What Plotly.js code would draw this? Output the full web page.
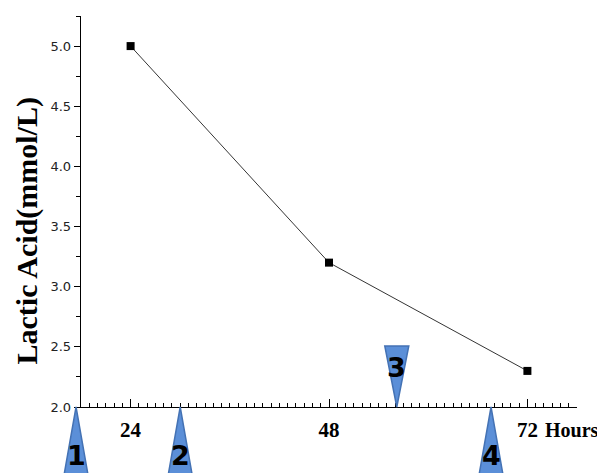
<!DOCTYPE html>
<html>
<head>
<meta charset="utf-8">
<script src="https://cdn.plot.ly/plotly-3.0.1.min.js"></script>
<style>html,body{margin:0;padding:0;background:#fff;}#chart{width:597px;height:473px;}</style>
</head>
<body>
<div id="chart"></div>
<script>
// Data
const hours = [24, 48, 72];
const lactate = [5.0, 3.2, 2.3];
const xTickVals = [24, 48, 72];
const xTickText = ['24', '48', '72'];
const xUnit = 'Hours';
const yTitle = 'Lactic Acid(mmol/L)';
// Event markers (timepoints in hours, label, pointing down?)
const eventHours = [17.4, 30, 56.2, 67.6];
const eventLabels = ['1', '2', '3', '4'];
const eventDown = [false, false, true, false];

const W = 597, H = 473;
const margin = {l: 81, r: 20, t: 16, b: 66};
const plotW = W - margin.l - margin.r;
const plotH = H - margin.t - margin.b;
const xRange = [18, 78];
const yRange = [2, 5.25];

function xPaper(h) { return (h - xRange[0]) / (xRange[1] - xRange[0]); }

const numFont = {family: 'DejaVu Sans, sans-serif', size: 27, color: '#000', weight: 'bold'};
const shapes = [];
const annotations = [];
eventHours.forEach((h, i) => {
  const xc = xPaper(h);
  const hw = 12 / plotW;
  if (eventDown[i]) {
    const ht = 61 / plotH;
    shapes.push({type: 'path', xref: 'paper', yref: 'paper',
      path: `M ${xc},0 L ${xc - hw},${ht} L ${xc + hw},${ht} Z`,
      fillcolor: '#5b8fd8', line: {color: '#4472b4', width: 1.5}, layer: 'above'});
    annotations.push({xref: 'paper', yref: 'paper', x: xc, y: 0, yanchor: 'middle', xanchor: 'center',
      yshift: 40, text: eventLabels[i], showarrow: false, font: numFont, borderpad: 0});
  } else {
    const ht = 68 / plotH;
    shapes.push({type: 'path', xref: 'paper', yref: 'paper',
      path: `M ${xc},0 L ${xc - hw},${-ht} L ${xc + hw},${-ht} Z`,
      fillcolor: '#5b8fd8', line: {color: '#4472b4', width: 1.5}, layer: 'above'});
    annotations.push({xref: 'paper', yref: 'paper', x: xc, y: 0, yanchor: 'middle', xanchor: 'center',
      yshift: -48, text: eventLabels[i], showarrow: false, font: numFont, borderpad: 0});
  }
});

// unit label after the last tick
annotations.push({xref: 'x', yref: 'paper', x: xTickVals[xTickVals.length - 1], y: 0,
  xanchor: 'left', yanchor: 'middle', xshift: 17, yshift: -23,
  text: '<b>' + xUnit + '</b>', showarrow: false, borderpad: 0,
  font: {family: 'Liberation Serif, Times New Roman, serif', size: 20, color: '#000'}});

// y title
annotations.push({xref: 'paper', yref: 'paper', x: -55 / plotW, y: 0.5, yshift: -20,
  xanchor: 'center', yanchor: 'middle', textangle: -90,
  text: '<b>' + yTitle + '</b>', showarrow: false,
  font: {family: 'Liberation Serif, Times New Roman, serif', size: 30, color: '#000'}});

const trace = {
  x: hours, y: lactate, type: 'scatter', mode: 'lines+markers',
  line: {color: '#000', width: 0.8},
  marker: {symbol: 'square', size: 8, color: '#000'},
  cliponaxis: false, showlegend: false
};

const layout = {
  width: W, height: H, margin: margin,
  paper_bgcolor: '#fff', plot_bgcolor: '#fff',
  showlegend: false,
  xaxis: {
    range: xRange, showgrid: false, zeroline: false,
    showline: true, linecolor: '#000', linewidth: 1.3,
    tickmode: 'array', tickvals: xTickVals, ticktext: xTickText,
    ticks: 'inside', ticklen: 8, tickwidth: 1, tickcolor: '#000',
    ticklabelstandoff: 3,
    tickfont: {family: 'Liberation Serif, Times New Roman, serif', size: 21, color: '#000', weight: 'bold'},
    minor: {tickmode: 'linear', tick0: 0, dtick: 1, ticks: 'inside', ticklen: 4, tickwidth: 1, tickcolor: '#000', showgrid: false}
  },
  yaxis: {
    range: yRange, showgrid: false, zeroline: false,
    showline: true, linecolor: '#000', linewidth: 1.3,
    tickmode: 'linear', tick0: 2, dtick: 0.5, tickformat: '.1f',
    ticks: 'outside', ticklen: 6, tickwidth: 1, tickcolor: '#000',
    tickfont: {family: 'DejaVu Sans, sans-serif', size: 13, color: '#222'},
    minor: {tickmode: 'linear', tick0: 2, dtick: 0.25, ticks: 'outside', ticklen: 4, tickwidth: 1, tickcolor: '#000', showgrid: false}
  },
  shapes: shapes,
  annotations: annotations
};

Plotly.newPlot('chart', [trace], layout, {displayModeBar: false, staticPlot: true});
</script>
</body>
</html>
